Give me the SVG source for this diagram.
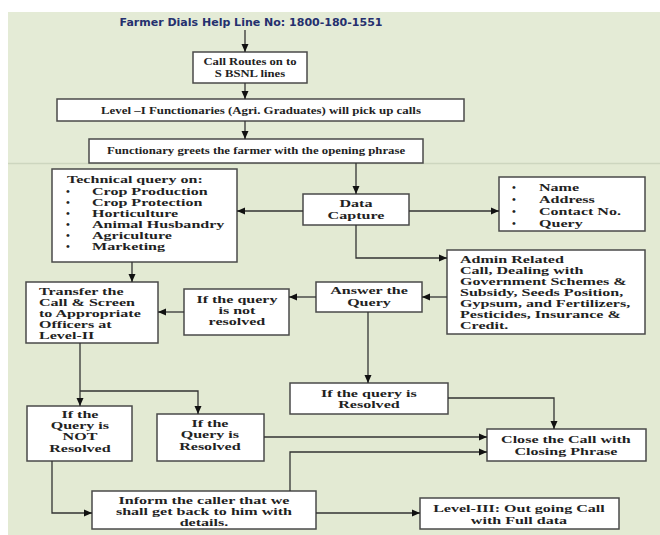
<svg xmlns="http://www.w3.org/2000/svg" width="660" height="535" viewBox="0 0 660 535">
<defs>
<marker id="ah" markerUnits="userSpaceOnUse" markerWidth="8" markerHeight="8" refX="8" refY="4" orient="auto">
<path d="M0,0.5 L8,4 L0,7.5 z" fill="#111"/>
</marker>
<style>
.box{fill:#fff;stroke:#4a4a4a;stroke-width:1.5}
.t{font-family:"Liberation Serif","Times New Roman",serif;font-weight:bold;font-size:11px;fill:#222}
.c{text-anchor:middle}
.s{transform-box:fill-box;transform-origin:center;transform:scaleX(1.46)}
.sl{transform-box:fill-box;transform-origin:left center;transform:scaleX(1.46)}
.s1{transform-box:fill-box;transform-origin:center;transform:scaleX(1.15)}
.s2{transform-box:fill-box;transform-origin:center;transform:scaleX(1.17)}
.s3{transform-box:fill-box;transform-origin:center;transform:scaleX(1.16)}
.ln{fill:none;stroke:#333;stroke-width:1.3;marker-end:url(#ah)}
</style>
</defs>
<rect x="0" y="0" width="660" height="535" fill="#fff"/>
<rect x="8" y="12" width="652" height="523" fill="#e4ebd6"/>
<rect x="8" y="163" width="652" height="372" fill="#e3ead3"/>
<line x1="8" y1="163.5" x2="660" y2="163.5" stroke="#cdd6bf" stroke-width="1.5"/>

<g id="title"><text x="251" y="26" text-anchor="middle" font-family="DejaVu Sans, Verdana, sans-serif" font-weight="bold" font-size="10" fill="#25306e" textLength="263" lengthAdjust="spacingAndGlyphs">Farmer Dials Help Line No: 1800-180-1551</text></g>

<g id="routes"><rect class="box" x="193" y="52" width="114" height="31"/>
<text class="t c s1" x="250" y="65">Call Routes on to</text><text class="t c s1" x="250" y="77">S BSNL lines</text></g>

<g id="level1"><rect class="box" x="57" y="99" width="407" height="22"/>
<text class="t c s2" x="261" y="114">Level –I  Functionaries (Agri. Graduates) will pick up calls</text></g>

<g id="greet"><rect class="box" x="89" y="139" width="334" height="24"/>
<text class="t c s3" x="256" y="154">Functionary greets the farmer with the opening phrase</text></g>

<g id="technical"><rect class="box" x="52" y="169" width="185" height="93"/>
<text class="t sl" x="67" y="183">Technical query on:</text>
<text class="t" x="66" y="195">•</text><text class="t sl" x="92" y="195">Crop Production</text>
<text class="t" x="66" y="206">•</text><text class="t sl" x="92" y="206">Crop Protection</text>
<text class="t" x="66" y="217">•</text><text class="t sl" x="92" y="217">Horticulture</text>
<text class="t" x="66" y="228">•</text><text class="t sl" x="92" y="228">Animal Husbandry</text>
<text class="t" x="66" y="239">•</text><text class="t sl" x="92" y="239">Agriculture</text>
<text class="t" x="66" y="250">•</text><text class="t sl" x="92" y="250">Marketing</text></g>

<g id="datacapture"><rect class="box" x="303" y="194" width="106" height="31"/>
<text class="t c s" x="356" y="207">Data</text><text class="t c s" x="356" y="219">Capture</text></g>

<g id="fields"><rect class="box" x="499" y="177" width="146" height="54"/>
<text class="t" x="512" y="191">•</text><text class="t sl" x="539" y="191">Name</text>
<text class="t" x="512" y="203">•</text><text class="t sl" x="539" y="203">Address</text>
<text class="t" x="512" y="215">•</text><text class="t sl" x="539" y="215">Contact No.</text>
<text class="t" x="512" y="227">•</text><text class="t sl" x="539" y="227">Query</text></g>

<g id="admin"><rect class="box" x="447" y="250" width="198" height="84"/>
<text class="t sl" x="460" y="263">Admin Related</text>
<text class="t sl" x="460" y="274">Call, Dealing with</text>
<text class="t sl" x="460" y="285">Government Schemes &amp;</text>
<text class="t sl" x="460" y="296">Subsidy, Seeds Position,</text>
<text class="t sl" x="460" y="307">Gypsum, and Fertilizers,</text>
<text class="t sl" x="460" y="318">Pesticides, Insurance &amp;</text>
<text class="t sl" x="460" y="329">Credit.</text></g>

<g id="transfer"><rect class="box" x="26" y="282" width="132" height="61"/>
<text class="t sl" x="39" y="295">Transfer the</text>
<text class="t sl" x="39" y="306">Call &amp; Screen</text>
<text class="t sl" x="39" y="317">to Appropriate</text>
<text class="t sl" x="39" y="328">Officers at</text>
<text class="t sl" x="39" y="339">Level-II</text></g>

<g id="notresolved1"><rect class="box" x="184" y="289" width="105" height="46"/>
<text class="t c s" x="237" y="303">If the query</text><text class="t c s" x="237" y="314">is not</text><text class="t c s" x="237" y="325">resolved</text></g>

<g id="answer"><rect class="box" x="316" y="282" width="106" height="30"/>
<text class="t c s" x="369" y="294">Answer the</text><text class="t c s" x="369" y="306">Query</text></g>

<g id="resolved1"><rect class="box" x="290" y="383" width="158" height="31"/>
<text class="t c s" x="369" y="397">If the query is</text><text class="t c s" x="369" y="408">Resolved</text></g>

<g id="notresolved2"><rect class="box" x="27" y="406" width="105" height="55"/>
<text class="t c s" x="80" y="418">If the</text><text class="t c s" x="80" y="429">Query is</text><text class="t c s" x="80" y="440">NOT</text><text class="t c s" x="80" y="452">Resolved</text></g>

<g id="resolved2"><rect class="box" x="157" y="414" width="107" height="47"/>
<text class="t c s" x="210" y="427">If the</text><text class="t c s" x="210" y="438">Query is</text><text class="t c s" x="210" y="450">Resolved</text></g>

<g id="close"><rect class="box" x="487" y="429" width="159" height="32"/>
<text class="t c s" x="566" y="443">Close the Call with</text><text class="t c s" x="566" y="455">Closing Phrase</text></g>

<g id="inform"><rect class="box" x="92" y="491" width="224" height="38"/>
<text class="t c s" x="204" y="504">Inform the caller that we</text><text class="t c s" x="204" y="515">shall get back to him with</text><text class="t c s" x="204" y="526">details.</text></g>

<g id="level3"><rect class="box" x="420" y="498" width="199" height="31"/>
<text class="t c s" x="519" y="512">Level-III: Out going Call</text><text class="t c s" x="519" y="524">with Full data</text></g>

<g id="connectors">
<path class="ln" d="M245,30 V52"/>
<path class="ln" d="M245,83 V99"/>
<path class="ln" d="M245,121 V139"/>
<path class="ln" d="M356,163 V194"/>
<path class="ln" d="M303,211 H237"/>
<path class="ln" d="M409,211 H499"/>
<path class="ln" d="M356,225 V258 H447"/>
<path class="ln" d="M132,262 V282"/>
<path class="ln" d="M447,297 H422"/>
<path class="ln" d="M316,297 H289"/>
<path class="ln" d="M184,312 H158"/>
<path class="ln" d="M368,312 V383"/>
<path class="ln" d="M448,398 H554 V429"/>
<path class="ln" d="M80,343 V406"/>
<path class="ln" d="M80,391 H198 V414"/>
<path class="ln" d="M264,437 H487"/>
<path class="ln" d="M290,491 V452 H487"/>
<path class="ln" d="M52,461 V513 H92"/>
<path class="ln" d="M316,513 H420"/>
</g>
</svg>
